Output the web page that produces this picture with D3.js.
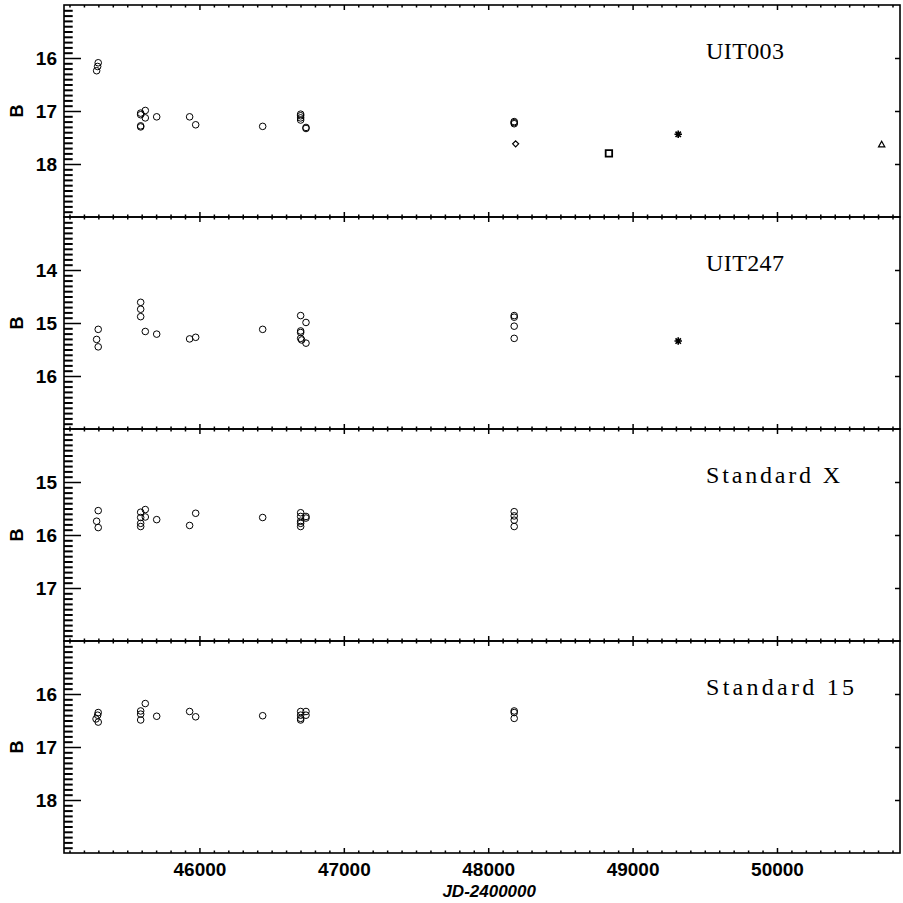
<!DOCTYPE html>
<html>
<head>
<meta charset="utf-8">
<script src="https://cdn.jsdelivr.net/npm/d3@7"></script>
<style>
	body { margin: 0; background: #fff; }
	svg { display: block; }
	.tick text { font-family: "Liberation Sans", Arial, sans-serif; font-weight: bold; font-size: 19px; fill: #000; }
	.tick line { stroke: #000; stroke-width: 1.5; }
	.minor-y .tick line { stroke-width: 2; }
	.title { font-family: "Liberation Serif", "Times New Roman", serif; font-size: 24px; fill: #000; }
</style>
</head>
<body>
<div id="chart"></div>
<script>
// star names and B ranges of the four panels (y axis runs downward: bright on top)
const panelNames = ["UIT003", "UIT247", "Standard X", "Standard 15"]
const panelRanges = [[15, 19], [13, 17], [14, 18], [15, 19]]
const xTicks = [46000, 47000, 48000, 49000, 50000]
const xRange = [45062, 50852]

// open circles, JD-2400000 and B
const uit003Jd = [45299, 45295, 45288, 45593, 45593, 45593, 45593, 45625, 45625, 45704, 45932, 45974, 46438,
	46701, 46701, 46701, 46701, 46738, 46738, 48180, 48180, 48180]
const uit003B = [16.09, 16.16, 16.24, 17.04, 17.07, 17.28, 17.30, 16.99, 17.13, 17.11, 17.11, 17.26, 17.29,
	17.06, 17.09, 17.13, 17.17, 17.31, 17.33, 17.20, 17.22, 17.24]

const uit247Jd = [45299, 45288, 45299, 45593, 45593, 45593, 45625, 45704, 45932, 45974, 46438,
	46701, 46701, 46701, 46701, 46708, 46738, 46738, 48180, 48180, 48180, 48180]
const uit247B = [15.12, 15.31, 15.45, 14.61, 14.74, 14.88, 15.16, 15.21, 15.30, 15.27, 15.12,
	14.86, 15.15, 15.18, 15.29, 15.32, 14.99, 15.38, 14.86, 14.89, 15.06, 15.29]

const stdXJd = [45299, 45288, 45299, 45593, 45593, 45593, 45593, 45625, 45625, 45704, 45932, 45974, 46438,
	46701, 46701, 46701, 46701, 46701, 46738, 46738, 48180, 48180, 48180, 48180]
const stdXB = [15.54, 15.74, 15.86, 15.57, 15.67, 15.78, 15.84, 15.52, 15.66, 15.71, 15.82, 15.59, 15.67,
	15.58, 15.65, 15.74, 15.78, 15.84, 15.65, 15.68, 15.56, 15.64, 15.72, 15.84]

const std15Jd = [45299, 45295, 45284, 45299, 45593, 45593, 45593, 45625, 45704, 45932, 45974, 46438,
	46701, 46701, 46701, 46701, 46738, 46738, 48180, 48180, 48180]
const std15B = [16.35, 16.40, 16.47, 16.53, 16.32, 16.38, 16.49, 16.18, 16.42, 16.33, 16.43, 16.41,
	16.33, 16.40, 16.46, 16.49, 16.33, 16.40, 16.32, 16.35, 16.46]

// other instruments, drawn with their own symbols
const uit003OtherJd = [48190, 48836, 49316, 50725]
const uit003OtherB = [17.62, 17.80, 17.44, 17.63]
const uit003OtherSym = ["diamond", "square", "asterisk", "triangle"]
const uit247OtherJd = [49316]
const uit247OtherB = [15.34]
const uit247OtherSym = ["asterisk"]

const panels = [
	{jd: uit003Jd, b: uit003B, oJd: uit003OtherJd, oB: uit003OtherB, oSym: uit003OtherSym},
	{jd: uit247Jd, b: uit247B, oJd: uit247OtherJd, oB: uit247OtherB, oSym: uit247OtherSym},
	{jd: stdXJd, b: stdXB, oJd: [], oB: [], oSym: []},
	{jd: std15Jd, b: std15B, oJd: [], oB: [], oSym: []}
]
const titleWidths = [78, 78, 134, 148]

const W = 903, H = 903
const plotLeft = 64, plotRight = 900, plotTop = 5, panelH = 212

const svg = d3.select("#chart").append("svg")
	.attr("width", W)
	.attr("height", H)

const x = d3.scaleLinear().domain(xRange).range([plotLeft, plotRight])
const xMinor = d3.range(45100, 50900, 100).filter(v => v % 1000 != 0)

// custom marks for the non-circle points
const symbols = {
	diamond: {draw(c, s) { let r = Math.sqrt(s) / 2; c.moveTo(0, -r); c.lineTo(r, 0); c.lineTo(0, r); c.lineTo(-r, 0); c.closePath() }},
	square: {draw(c, s) { let r = Math.sqrt(s) / 2; c.rect(-r, -r, 2 * r, 2 * r) }},
	triangle: {draw(c, s) { let r = Math.sqrt(s) / 2; c.moveTo(0, -r); c.lineTo(r, r * 0.8); c.lineTo(-r, r * 0.8); c.closePath() }},
	asterisk: {draw(c, s) {
		let r = Math.sqrt(s) / 2, d = r * 0.72
		c.moveTo(-r, 0); c.lineTo(r, 0); c.moveTo(0, -r); c.lineTo(0, r)
		c.moveTo(-d, -d); c.lineTo(d, d); c.moveTo(-d, d); c.lineTo(d, -d)
	}}
}
const symbolSize = {diamond: 36, square: 42, triangle: 40, asterisk: 56}
const symbolWidth = {diamond: 1.2, square: 1.8, triangle: 1.2, asterisk: 1.6}

panels.forEach((p, i) => {
	let y0 = plotTop + i * panelH, y1 = y0 + panelH
	let range = panelRanges[i]
	let y = d3.scaleLinear().domain(range).range([y0, y1])
	let majors = d3.range(range[0] + 1, range[1])
	let minors = d3.range(Math.round(range[0] * 10) + 1, Math.round(range[1] * 10)).map(v => v / 10).filter(v => Math.abs(v - Math.round(v)) > 0.01)
	let g = svg.append("g").attr("class", `panel panel-${i}`)

	// left axis: labelled majors, long minors, all pointing inward
	g.append("g")
		.attr("transform", `translate(${plotLeft},0)`)
		.call(d3.axisLeft(y).tickValues(majors).tickSizeInner(-17).tickSizeOuter(0).tickPadding(7).tickFormat(d3.format("d")))
		.call(a => a.select(".domain").remove())
	g.append("g")
		.attr("class", "minor-y")
		.attr("transform", `translate(${plotLeft},0)`)
		.call(d3.axisRight(y).tickValues(minors).tickSize(8.7).tickFormat(""))
		.call(a => a.select(".domain").remove())

	// right axis: short major ticks only
	g.append("g")
		.attr("transform", `translate(${plotRight},0)`)
		.call(d3.axisRight(y).tickValues(majors).tickSizeInner(-5).tickSizeOuter(0).tickFormat(""))
		.call(a => a.select(".domain").remove())

	// top and bottom edges of the panel
	g.append("g")
		.attr("transform", `translate(0,${y0})`)
		.call(d3.axisBottom(x).tickValues(xTicks).tickSize(5).tickFormat(""))
		.call(a => a.select(".domain").remove())
	g.append("g")
		.attr("transform", `translate(0,${y0})`)
		.call(d3.axisBottom(x).tickValues(xMinor).tickSize(2.5).tickFormat(""))
		.call(a => a.select(".domain").remove())
	g.append("g")
		.attr("transform", `translate(0,${y1})`)
		.call(d3.axisBottom(x).tickValues(xTicks).tickSizeInner(-5).tickSizeOuter(0).tickPadding(10)
			.tickFormat(i == panels.length - 1 ? d3.format("d") : ""))
		.call(a => a.select(".domain").remove())
	g.append("g")
		.attr("transform", `translate(0,${y1})`)
		.call(d3.axisTop(x).tickValues(xMinor).tickSize(2.5).tickFormat(""))
		.call(a => a.select(".domain").remove())

	g.append("rect")
		.attr("x", plotLeft)
		.attr("y", y0)
		.attr("width", plotRight - plotLeft)
		.attr("height", panelH)
		.attr("fill", "none")
		.attr("stroke", "#000")
		.attr("stroke-width", 1.6)

	g.append("text")
		.attr("transform", `translate(23,${(y0 + y1) / 2}) rotate(-90)`)
		.attr("text-anchor", "middle")
		.style("font-family", "Liberation Sans, Arial, sans-serif")
		.style("font-weight", "bold")
		.style("font-size", "18px")
		.text("B")

	g.append("text")
		.attr("class", "title")
		.attr("x", 706)
		.attr("y", y0 + 54)
		.attr("textLength", titleWidths[i])
		.attr("lengthAdjust", "spacing")
		.text(panelNames[i])

	g.selectAll(".pt")
		.data(p.jd.map((jd, k) => ({jd: jd, b: p.b[k]})))
		.enter()
		.append("circle")
		.attr("class", "pt")
		.attr("cx", d => x(d.jd))
		.attr("cy", d => y(d.b))
		.attr("r", 3.3)
		.attr("fill", "none")
		.attr("stroke", "#000")
		.attr("stroke-width", 1)

	g.selectAll(".other")
		.data(p.oJd.map((jd, k) => ({jd: jd, b: p.oB[k], sym: p.oSym[k]})))
		.enter()
		.append("path")
		.attr("class", "other")
		.attr("transform", d => `translate(${x(d.jd)},${y(d.b)})`)
		.attr("d", d => d3.symbol().type(symbols[d.sym]).size(symbolSize[d.sym])())
		.attr("fill", "none")
		.attr("stroke", "#000")
		.attr("stroke-width", d => symbolWidth[d.sym])
})

svg.append("text")
	.attr("x", x(48000) + 1)
	.attr("y", 897)
	.attr("text-anchor", "middle")
	.style("font-family", "Liberation Sans, Arial, sans-serif")
	.style("font-weight", "bold")
	.style("font-style", "italic")
	.style("font-size", "17px")
	.text("JD-2400000")
</script>
</body>
</html>
